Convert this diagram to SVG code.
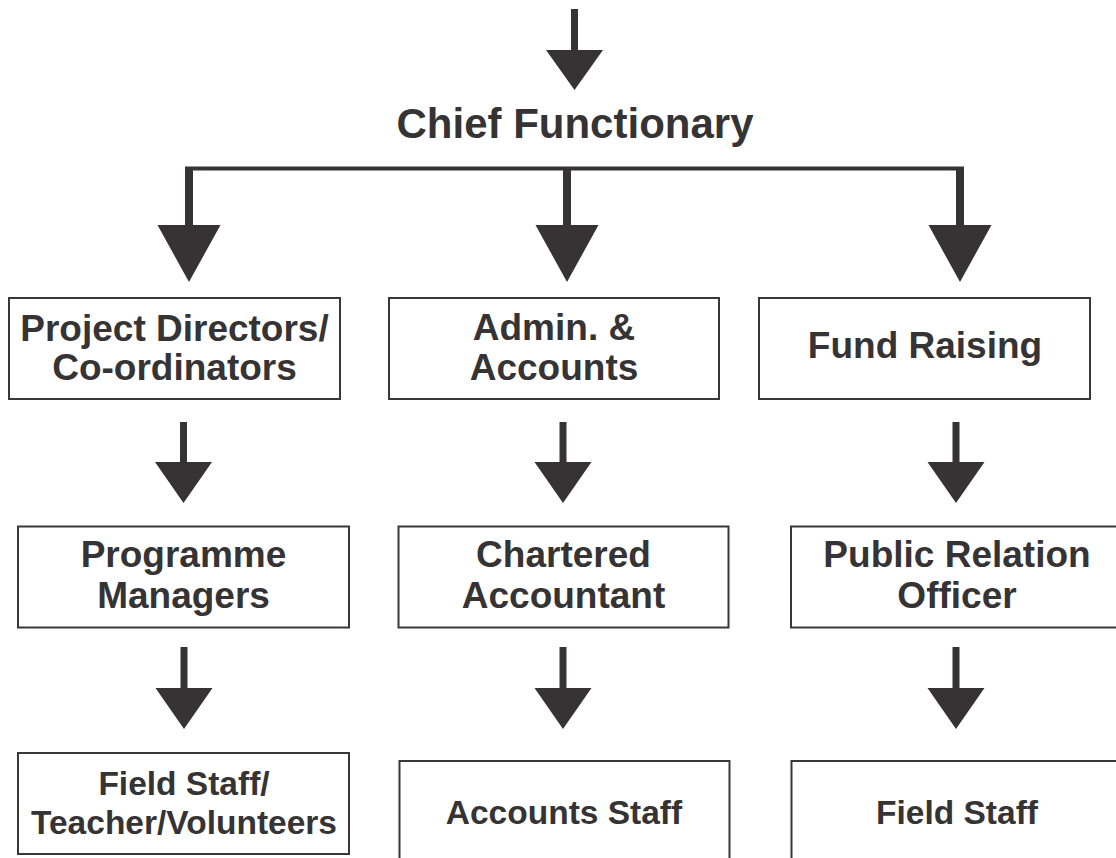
<svg xmlns="http://www.w3.org/2000/svg" width="1116" height="858" viewBox="0 0 1116 858">
<style>
.box{fill:#fff;stroke:#3a3739;stroke-width:2}
.t{font-family:"Liberation Sans",Arial,sans-serif;font-weight:bold;fill:#363335;text-anchor:middle}
.t1{font-size:37px}
.t3{font-size:33.5px}
.title{font-size:42px}
.arr{fill:#363335;stroke:none}
</style>
<rect width="1116" height="858" fill="#fff"/>
<g id="connectors">
<path class="arr" d="M571 9H578V50H603L574.5 90L546 50H571Z"/>
<rect class="arr" x="185" y="166.5" width="779" height="4"/>
<path class="arr" d="M185 168H193V225H220.5L189 282L157.5 225H185Z"/>
<path class="arr" d="M563 168H571V225H598.5L567 282L535.5 225H563Z"/>
<path class="arr" d="M956 168H964V225H991.5L960 282L928.5 225H956Z"/>
<path class="arr" d="M180 422H187V462H212L183.5 503L155 462H180Z"/>
<path class="arr" d="M559.5 422H566.5V462H591.5L563 503L534.5 462H559.5Z"/>
<path class="arr" d="M952.5 422H959.5V462H984.5L956 503L927.5 462H952.5Z"/>
<path class="arr" d="M180.5 647H187.5V688H212.5L184 729L155.5 688H180.5Z"/>
<path class="arr" d="M559.5 647H566.5V688H591.5L563 729L534.5 688H559.5Z"/>
<path class="arr" d="M952.5 647H959.5V688H984.5L956 729L927.5 688H952.5Z"/>
</g>
<g id="chief">
<text class="t title" x="575" y="138">Chief Functionary</text>
</g>
<g id="project-directors">
<rect class="box" x="9" y="298" width="331" height="101"/>
<text class="t t1" x="174.5" y="341">Project Directors/</text>
<text class="t t1" x="174.5" y="380">Co-ordinators</text>
</g>
<g id="admin-accounts">
<rect class="box" x="389" y="298" width="330" height="101"/>
<text class="t t1" x="554" y="340">Admin. &amp;</text>
<text class="t t1" x="554" y="380">Accounts</text>
</g>
<g id="fund-raising">
<rect class="box" x="759" y="298" width="331" height="101"/>
<text class="t t1" x="925" y="358">Fund Raising</text>
</g>
<g id="programme-managers">
<rect class="box" x="18" y="526.5" width="331" height="101"/>
<text class="t t1" x="183.5" y="567">Programme</text>
<text class="t t1" x="183.5" y="608">Managers</text>
</g>
<g id="chartered-accountant">
<rect class="box" x="398.5" y="526.5" width="330" height="101"/>
<text class="t t1" x="563.5" y="567">Chartered</text>
<text class="t t1" x="563.5" y="608">Accountant</text>
</g>
<g id="public-relation-officer">
<rect class="box" x="791" y="526.5" width="340" height="101"/>
<text class="t t1" x="957" y="567">Public Relation</text>
<text class="t t1" x="957" y="608">Officer</text>
</g>
<g id="field-staff-teachers">
<rect class="box" x="18" y="753" width="331" height="101"/>
<text class="t t3" x="184" y="795">Field Staff/</text>
<text class="t t3" x="184" y="834">Teacher/Volunteers</text>
</g>
<g id="accounts-staff">
<rect class="box" x="399.5" y="761" width="330" height="110"/>
<text class="t t3" x="564" y="824">Accounts Staff</text>
</g>
<g id="field-staff">
<rect class="box" x="791.5" y="761" width="340" height="110"/>
<text class="t t3" x="957" y="824">Field Staff</text>
</g>
</svg>
